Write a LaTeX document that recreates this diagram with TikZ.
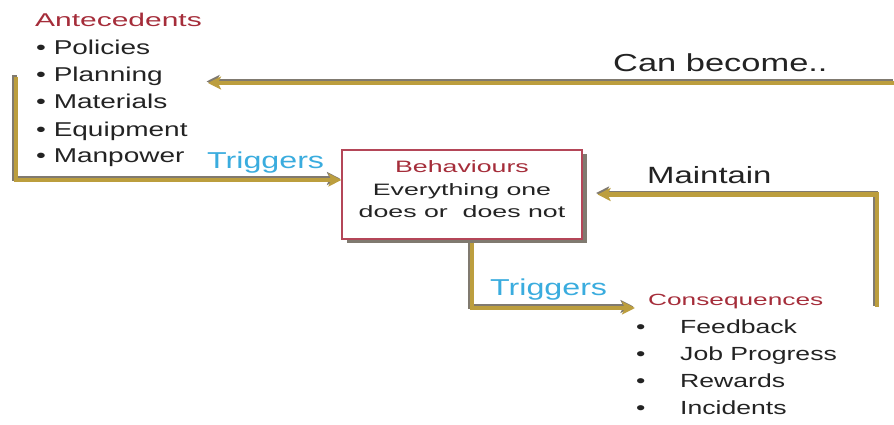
\documentclass[tikz,border=0pt]{standalone}
\usepackage{fontspec}
\setmainfont[FakeStretch=1.4]{Liberation Sans}
\newfontfamily\widefont[FakeStretch=1.62]{Liberation Sans}
\usetikzlibrary{arrows.meta,shadows}

\definecolor{linkgold}{RGB}{188,158,62}
\definecolor{linkgrey}{RGB}{128,122,112}
\definecolor{headred}{RGB}{165,45,58}
\definecolor{trigblue}{RGB}{58,172,222}
\definecolor{boxred}{RGB}{180,70,88}
\definecolor{bodytext}{RGB}{35,35,35}

\newcommand{\setfs}[1]{\fontsize{#1}{#1}\selectfont}

\begin{document}
\begin{tikzpicture}[x=1pt,y=-1pt,
    link/.style={line width=4.5pt, draw=linkgold,
      -{Stealth[length=13pt,width=13pt,inset=3pt]}},
    linkshade/.style={link, draw=linkgrey,
      transform canvas={shift={(-1.5pt,1.5pt)}}},
    item/.style={anchor=base west, inner sep=0, text=bodytext},
    head/.style={anchor=base west, inner sep=0, text=headred, font=\widefont\setfs{18.5}},
    trig/.style={anchor=base west, inner sep=0, text=trigblue, font=\setfs{23}},
    behbox/.style={draw=boxred, line width=1.2pt, fill=white, align=center,
      minimum width=240pt, minimum height=89pt, text depth=10pt, text=bodytext,
      font=\widefont\fontsize{16.5}{22.5}\selectfont,
      drop shadow={shadow xshift=5pt, shadow yshift=-4pt, fill=linkgrey, opacity=1}}]
    \useasboundingbox (0,0) rectangle (894,425);

    % antecedents
    \node[head] (ante) at (35,27) {Antecedents};
    \foreach \i/\t in {1/Policies,2/Planning,3/Materials,4/Equipment,5/Manpower} {
      \node[item, font=\setfs{20}] (ante-\i) at (36,28+27*\i) {• \t};
    }

    % behaviours
    \node[behbox] (beh) at (462,194.5) {{\color{headred}Behaviours}\\Everything one\\does or~ does not};

    % consequences
    \node[head, font=\widefont\setfs{16.2}] (cons) at (648,305) {Consequences};
    \foreach \i/\t in {1/Feedback,2/Job Progress,3/Rewards,4/Incidents} {
      \node[item, font=\setfs{19}] (cons-\i) at (636,306+27*\i) {\makebox[44pt][l]{•}\t};
    }

    \node[trig] (trig-a) at (207,168) {Triggers};
    \node[trig] (trig-b) at (490,295) {Triggers};
    \node[item, font=\setfs{24.6}] (can) at (613,72) {Can become..};
    \node[item, font=\setfs{23.5}] (main) at (647,183) {Maintain};

    \coordinate (loopL) at (16,77);
    \coordinate (topR) at (894,83);
    \coordinate (canEnd) at (208,83);
    \coordinate (mainR) at (877,307);

    % grey edge first, gold on top
    \foreach \s in {linkshade,link} {
      \draw[\s] (loopL) |- ([yshift=14.5pt]beh.west);
      \draw[\s] (topR) -- (canEnd);
      \draw[\s] (mainR) |- ([xshift=15pt]beh.east);
      \draw[\s] ([xshift=10pt,yshift=-3pt]beh.south) |- ([xshift=-13pt,yshift=-3pt]cons.base west);
    }
  \end{tikzpicture}
\end{document}
